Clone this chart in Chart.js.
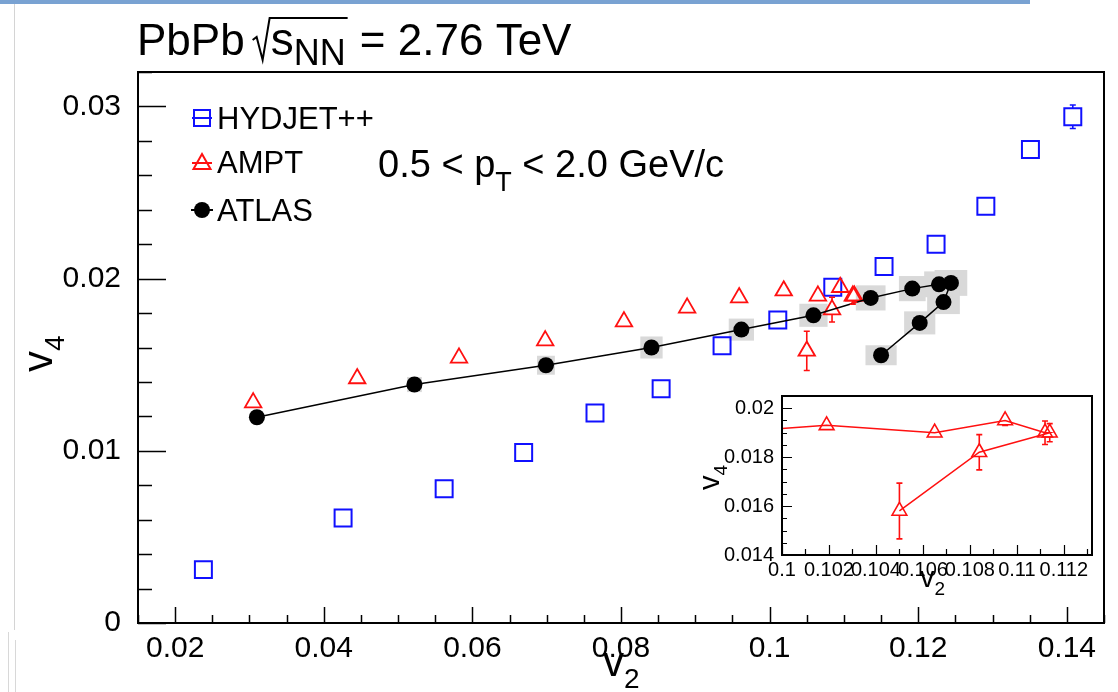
<!DOCTYPE html>
<html>
<head>
<meta charset="utf-8">
<script src="https://cdn.jsdelivr.net/npm/chart.js@4.4.1/dist/chart.umd.min.js"></script>
<style>
  html, body { margin: 0; padding: 0; background: #fff; }
  #wrap { position: relative; width: 1118px; height: 692px; overflow: hidden; }
  #mainChart { position: absolute; left: 0; top: 0; }
  #insetChart { position: absolute; left: 690px; top: 385px; }
  .edge-top { position: absolute; left: 0; top: 0; width: 1030px; height: 4px; background: #79a2d2; }
  .edge-left { position: absolute; left: 14px; top: 4px; width: 1px; height: 626px; background: #d4d4d4; }
  .edge-mark { position: absolute; width: 1px; background: #d8d8d8; }
</style>
</head>
<body>
<div id="wrap">
  <canvas id="mainChart" width="1118" height="692"></canvas>
  <canvas id="insetChart" width="415" height="215"></canvas>
  <div class="edge-top"></div>
  <div class="edge-left"></div>
  <div class="edge-mark" style="left:8px;top:632px;height:60px"></div>
  <div class="edge-mark" style="left:15px;top:640px;height:52px"></div>
</div>
<script>
const FONT = '"Liberation Sans", Arial, Helvetica, sans-serif';

// axis tick labels
const xTicks = [0.02, 0.04, 0.06, 0.08, 0.1, 0.12, 0.14];
const yTicks = [0, 0.01, 0.02, 0.03];
const insetXTicks = [0.1, 0.102, 0.104, 0.106, 0.108, 0.11, 0.112];
const insetYTicks = [0.014, 0.016, 0.018, 0.02];

// HYDJET++
const hydjetV2 = [0.0238, 0.0426, 0.0562, 0.0669, 0.0765, 0.0854, 0.0936, 0.1011, 0.1085, 0.1154, 0.1224, 0.1291, 0.1351, 0.1408];
const hydjetV4 = [0.0031, 0.0061, 0.0078, 0.0099, 0.0122, 0.0136, 0.0161, 0.0176, 0.0195, 0.0207, 0.0220, 0.0242, 0.0275, 0.0294];
const hydjetErr = [0.0002, 0.0002, 0.0002, 0.0002, 0.0002, 0.0002, 0.0002, 0.0002, 0.0002, 0.0002, 0.0003, 0.0003, 0.0005, 0.00068];

// AMPT
const amptV2 = [0.0305, 0.0445, 0.0582, 0.0698, 0.0804, 0.0889, 0.0959, 0.1019, 0.1065, 0.1095, 0.1112, 0.1114, 0.1084, 0.1050];
const amptV4 = [0.0128, 0.0142, 0.0154, 0.0164, 0.0175, 0.0183, 0.0189, 0.0193, 0.0190, 0.0195, 0.0190, 0.0190, 0.0182, 0.0158];
const amptErr = [0.0001, 0.0001, 0.0001, 0.0001, 0.0001, 0.0001, 0.0001, 0.0001, 0.0001, 0.0002, 0.00048, 0.00037, 0.00072, 0.00114];

// ATLAS, with systematic uncertainties (half widths)
const atlasV2 = [0.0310, 0.0522, 0.0699, 0.0841, 0.0962, 0.1059, 0.1136, 0.1192, 0.1228, 0.1244, 0.1234, 0.1202, 0.1150];
const atlasV4 = [0.01195, 0.01385, 0.01497, 0.0160, 0.01704, 0.01787, 0.01888, 0.01942, 0.01967, 0.01975, 0.01864, 0.01743, 0.01555];
const atlasSysV2 = [0, 0.0010, 0.0012, 0.0015, 0.0017, 0.0019, 0.0020, 0.0018, 0.0020, 0.0022, 0.0022, 0.0021, 0.0021];
const atlasSysV4 = [0, 0.00044, 0.00055, 0.00064, 0.00064, 0.00067, 0.00073, 0.00073, 0.00075, 0.00075, 0.0007, 0.00067, 0.00058];

const BLUE = '#1010ff';
const RED = '#ff1010';
const BOX = '#d9d9d9';

function pts(xs, ys) {
  return xs.map((x, i) => ({ x: x, y: ys[i] }));
}

function fmt(v) {
  return String(Number(v.toFixed(4)));
}

// keep the plot frame exactly where the layout puts it
function fixSize(prop, size) {
  return s => {
    s[prop] = size;
    s.paddingTop = 0;
    s.paddingBottom = 0;
    s.paddingLeft = 0;
    s.paddingRight = 0;
  };
}

// white pad, frame and inward ticks (ROOT style)
function framePlugin(o) {
  return {
    id: 'frame',
    beforeDraw(chart) {
      const a = chart.chartArea, ctx = chart.ctx;
      ctx.save();
      ctx.fillStyle = '#fff';
      ctx.fillRect(a.left, a.top, a.right - a.left, a.bottom - a.top);
      ctx.restore();
    },
    afterDraw(chart) {
      const ctx = chart.ctx, a = chart.chartArea;
      const xs = chart.scales.x, ys = chart.scales.y;
      ctx.save();
      ctx.strokeStyle = '#000';
      ctx.lineWidth = o.tickWidth;
      ctx.beginPath();
      for (let n = Math.ceil(xs.min / o.xMinor - 1e-6); n * o.xMinor <= xs.max + 1e-9; n++) {
        const v = n * o.xMinor;
        const r = v / o.xMajor;
        const len = Math.abs(r - Math.round(r)) < 1e-6 ? o.xMajorLen : o.xMinorLen;
        const px = Math.round(xs.getPixelForValue(v)) + 0.5;
        ctx.moveTo(px, a.bottom);
        ctx.lineTo(px, a.bottom - len);
      }
      for (let n = Math.ceil(ys.min / o.yMinor - 1e-6); n * o.yMinor <= ys.max + 1e-9; n++) {
        const v = n * o.yMinor;
        const r = v / o.yMajor;
        const len = Math.abs(r - Math.round(r)) < 1e-6 ? o.yMajorLen : o.yMinorLen;
        const py = Math.round(ys.getPixelForValue(v)) + 0.5;
        ctx.moveTo(a.left, py);
        ctx.lineTo(a.left + len, py);
      }
      ctx.stroke();
      ctx.lineWidth = o.frameWidth;
      ctx.strokeRect(a.left, a.top, a.right - a.left, a.bottom - a.top);
      ctx.restore();
    }
  };
}

// grey systematic boxes and vertical error bars
const uncertaintyPlugin = {
  id: 'uncertainties',
  beforeDatasetsDraw(chart) {
    const ctx = chart.ctx, xs = chart.scales.x, ys = chart.scales.y, a = chart.chartArea;
    ctx.save();
    ctx.beginPath();
    ctx.rect(a.left, a.top, a.right - a.left, a.bottom - a.top);
    ctx.clip();
    ctx.fillStyle = BOX;
    chart.data.datasets.forEach(ds => {
      if (!ds.sysX) return;
      ds.data.forEach((p, i) => {
        if (!ds.sysX[i]) return;
        const x0 = xs.getPixelForValue(p.x - ds.sysX[i]);
        const x1 = xs.getPixelForValue(p.x + ds.sysX[i]);
        const y0 = ys.getPixelForValue(p.y + ds.sysY[i]);
        const y1 = ys.getPixelForValue(p.y - ds.sysY[i]);
        ctx.fillRect(x0, y0, x1 - x0, y1 - y0);
      });
    });
    ctx.restore();
  },
  afterDatasetsDraw(chart) {
    const ctx = chart.ctx, xs = chart.scales.x, ys = chart.scales.y, a = chart.chartArea;
    ctx.save();
    ctx.beginPath();
    ctx.rect(a.left, a.top, a.right - a.left, a.bottom - a.top);
    ctx.clip();
    chart.data.datasets.forEach(ds => {
      if (!ds.errors) return;
      ctx.strokeStyle = ds.pointBorderColor;
      ctx.lineWidth = 1.6;
      ds.data.forEach((p, i) => {
        const px = xs.getPixelForValue(p.x);
        const py = ys.getPixelForValue(p.y);
        const top = ys.getPixelForValue(p.y + ds.errors[i]);
        const bot = ys.getPixelForValue(p.y - ds.errors[i]);
        ctx.beginPath();
        if (py - top > ds.gapTop) {
          ctx.moveTo(px, py - ds.gapTop);
          ctx.lineTo(px, top);
          ctx.moveTo(px - 3, top);
          ctx.lineTo(px + 3, top);
        }
        if (bot - py > ds.gapBottom) {
          ctx.moveTo(px, py + ds.gapBottom);
          ctx.lineTo(px, bot);
          ctx.moveTo(px - 3, bot);
          ctx.lineTo(px + 3, bot);
        }
        ctx.stroke();
      });
    });
    ctx.restore();
  }
};

// text with sub-scripts: parts = [text, size, dy]
function drawParts(ctx, x, y, parts) {
  parts.forEach(p => {
    ctx.font = p[1] + 'px ' + FONT;
    ctx.fillText(p[0], x, y + (p[2] || 0));
    x += ctx.measureText(p[0]).width;
  });
  return x;
}

function marker(ctx, style, x, y) {
  ctx.save();
  ctx.lineWidth = 2;
  if (style === 'rect') {
    ctx.strokeStyle = BLUE;
    ctx.beginPath();
    ctx.moveTo(x - 10, y); ctx.lineTo(x + 10, y);
    ctx.stroke();
    ctx.strokeRect(x - 8, y - 8, 16, 16);
  } else if (style === 'triangle') {
    ctx.strokeStyle = RED;
    ctx.beginPath();
    ctx.moveTo(x - 10, y + 1); ctx.lineTo(x + 10, y + 1);
    ctx.moveTo(x, y - 8); ctx.lineTo(x + 8.5, y + 7); ctx.lineTo(x - 8.5, y + 7); ctx.closePath();
    ctx.stroke();
  } else {
    ctx.strokeStyle = '#000';
    ctx.fillStyle = '#000';
    ctx.beginPath();
    ctx.moveTo(x - 11, y); ctx.lineTo(x + 11, y);
    ctx.stroke();
    ctx.beginPath();
    ctx.arc(x, y, 8, 0, Math.PI * 2);
    ctx.fill();
  }
  ctx.restore();
}

const mainTextPlugin = {
  id: 'mainText',
  afterDraw(chart) {
    const ctx = chart.ctx;
    ctx.save();
    ctx.fillStyle = '#000';
    ctx.strokeStyle = '#000';
    ctx.textBaseline = 'alphabetic';

    // title
    let x = drawParts(ctx, 137, 55, [['PbPb', 44]]);
    const rx = x + 8, by = 55;
    ctx.font = '46px ' + FONT;
    const sW = ctx.measureText('s').width;
    ctx.font = '36px ' + FONT;
    const nW = ctx.measureText('NN').width;
    const rEnd = rx + 19 + sW + nW + 1;
    ctx.lineWidth = 2;
    ctx.beginPath();
    ctx.moveTo(rx, by - 15);
    ctx.lineTo(rx + 4, by - 18);
    ctx.lineTo(rx + 10, by + 5);
    ctx.lineTo(rx + 17, by - 37);
    ctx.lineTo(rEnd, by - 37);
    ctx.stroke();
    x = drawParts(ctx, rx + 18, by, [['s', 46], ['NN', 36, 10]]);
    drawParts(ctx, x + 2, by, [[' = 2.76 TeV', 44]]);

    // kinematic range
    drawParts(ctx, 378, 177, [['0.5 < p', 38], ['T', 27, 14], [' < 2.0 GeV/c', 38]]);

    // legend
    const rows = [['rect', 'HYDJET++', 118], ['triangle', 'AMPT', 162], ['circle', 'ATLAS', 210]];
    rows.forEach(r => {
      marker(ctx, r[0], 202, r[2]);
      ctx.fillStyle = '#000';
      drawParts(ctx, 217, r[2] + 11, [[r[1], 31]]);
    });

    // axis titles
    drawParts(ctx, 603, 676, [['v', 42], ['2', 28, 12]]);
    ctx.translate(52, 372);
    ctx.rotate(-Math.PI / 2);
    drawParts(ctx, 0, 0, [['v', 42], ['4', 28, 12]]);
    ctx.restore();
  }
};

const insetTextPlugin = {
  id: 'insetText',
  afterDraw(chart) {
    const ctx = chart.ctx;
    ctx.save();
    ctx.fillStyle = '#000';
    drawParts(ctx, 230, 202, [['v', 29], ['2', 19, 8]]);
    ctx.translate(29, 105);
    ctx.rotate(-Math.PI / 2);
    drawParts(ctx, 0, 0, [['v', 29], ['4', 19, 8]]);
    ctx.restore();
  }
};

Chart.defaults.color = '#000';
Chart.defaults.font.family = FONT;

new Chart(document.getElementById('mainChart'), {
  type: 'scatter',
  data: {
    datasets: [
      {
        label: 'ATLAS',
        data: pts(atlasV2, atlasV4),
        showLine: true,
        borderColor: '#000',
        borderWidth: 1.5,
        pointRadius: 8,
        pointBackgroundColor: '#000',
        pointBorderColor: '#000',
        pointBorderWidth: 0,
        sysX: atlasSysV2,
        sysY: atlasSysV4,
        order: 0
      },
      {
        label: 'AMPT',
        data: pts(amptV2, amptV4),
        pointStyle: 'triangle',
        pointRadius: 9.5,
        pointBorderColor: RED,
        pointBackgroundColor: 'rgba(0,0,0,0)',
        pointBorderWidth: 1.8,
        errors: amptErr,
        gapTop: 9,
        gapBottom: 5,
        order: 1
      },
      {
        label: 'HYDJET++',
        data: pts(hydjetV2, hydjetV4),
        pointStyle: 'rect',
        pointRadius: 12,
        pointBorderColor: BLUE,
        pointBackgroundColor: 'rgba(0,0,0,0)',
        pointBorderWidth: 2,
        errors: hydjetErr,
        gapTop: 8.5,
        gapBottom: 8.5,
        order: 2
      }
    ]
  },
  options: {
    responsive: false,
    animation: false,
    events: [],
    layout: { padding: { top: 72, right: 14, left: 0, bottom: 0 } },
    plugins: { legend: { display: false }, tooltip: { enabled: false } },
    scales: {
      x: {
        type: 'linear',
        min: 0.015,
        max: 0.145,
        grid: { display: false, drawTicks: false },
        border: { display: false },
        afterBuildTicks: s => { s.ticks = xTicks.map(v => ({ value: v })); },
        afterFit: fixSize('height', 69),
        ticks: { autoSkip: false, maxRotation: 0, minRotation: 0, padding: 8, font: { size: 30 }, callback: v => fmt(v) }
      },
      y: {
        type: 'linear',
        min: 0,
        max: 0.032,
        grid: { display: false, drawTicks: false },
        border: { display: false },
        afterBuildTicks: s => { s.ticks = yTicks.map(v => ({ value: v })); },
        afterFit: fixSize('width', 138),
        ticks: { autoSkip: false, padding: 17, font: { size: 30 }, callback: v => fmt(v) }
      }
    }
  },
  plugins: [
    framePlugin({ xMajor: 0.02, xMinor: 0.005, xMajorLen: 16, xMinorLen: 8,
                  yMajor: 0.01, yMinor: 0.002, yMajorLen: 28, yMinorLen: 14,
                  tickWidth: 1.5, frameWidth: 2 }),
    uncertaintyPlugin,
    mainTextPlugin
  ]
});

new Chart(document.getElementById('insetChart'), {
  type: 'scatter',
  data: {
    datasets: [
      {
        label: 'AMPT',
        data: pts(amptV2, amptV4),
        showLine: true,
        borderColor: RED,
        borderWidth: 1.5,
        pointStyle: 'triangle',
        pointRadius: 8.5,
        pointBorderColor: RED,
        pointBackgroundColor: 'rgba(0,0,0,0)',
        pointBorderWidth: 1.6,
        errors: amptErr,
        gapTop: 7,
        gapBottom: 4
      }
    ]
  },
  options: {
    responsive: false,
    animation: false,
    events: [],
    layout: { padding: { top: 11, right: 13, left: 0, bottom: 0 } },
    plugins: { legend: { display: false }, tooltip: { enabled: false } },
    scales: {
      x: {
        type: 'linear',
        min: 0.1,
        max: 0.1132,
        grid: { display: false, drawTicks: false },
        border: { display: false },
        afterBuildTicks: s => { s.ticks = insetXTicks.map(v => ({ value: v })); },
        afterFit: fixSize('height', 45),
        ticks: { autoSkip: false, maxRotation: 0, minRotation: 0, padding: 3, font: { size: 20 }, callback: v => fmt(v) }
      },
      y: {
        type: 'linear',
        min: 0.014,
        max: 0.0205,
        grid: { display: false, drawTicks: false },
        border: { display: false },
        afterBuildTicks: s => { s.ticks = insetYTicks.map(v => ({ value: v })); },
        afterFit: fixSize('width', 92),
        ticks: { autoSkip: false, padding: 8, font: { size: 20 }, callback: v => fmt(v) }
      }
    }
  },
  plugins: [
    framePlugin({ xMajor: 0.002, xMinor: 0.001, xMajorLen: 10, xMinorLen: 6,
                  yMajor: 0.002, yMinor: 0.0005, yMajorLen: 10, yMinorLen: 5,
                  tickWidth: 1.2, frameWidth: 2 }),
    uncertaintyPlugin,
    insetTextPlugin
  ]
});
</script>
</body>
</html>
